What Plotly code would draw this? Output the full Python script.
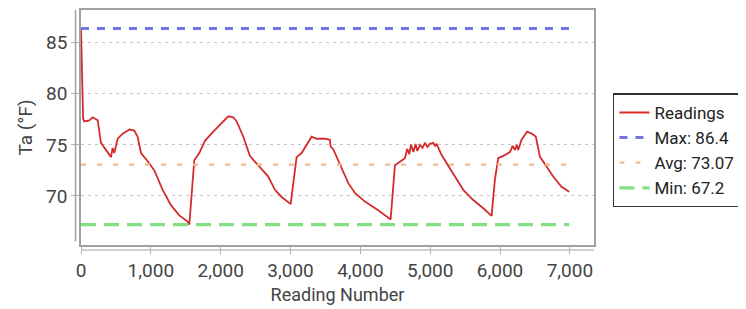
import plotly.graph_objects as go

# ---- data ----
reading_x = [0, 8, 18, 30, 47, 119, 167, 239, 286, 382, 430, 453, 477, 525, 597, 692, 763, 811, 859,
             955, 1050, 1169, 1288, 1407, 1527, 1551, 1622, 1694, 1775, 1894, 2014, 2109, 2180, 2229,
             2324, 2419, 2538, 2681, 2777, 2873, 3002, 3087, 3159, 3231, 3302, 3374, 3493, 3564, 3575,
             3610, 3636, 3732, 3827, 3922, 4065, 4256, 4433, 4495, 4566, 4638, 4670, 4700, 4725, 4760,
             4790, 4815, 4853, 4890, 4924, 4960, 4996, 5043, 5070, 5091, 5163, 5258, 5354, 5473, 5616,
             5759, 5879, 5926, 5974, 6069, 6141, 6180, 6212, 6240, 6260, 6308, 6388, 6451, 6513, 6570,
             6666, 6761, 6880, 6990]
reading_y = [86.4, 83.5, 80.0, 77.6, 77.3, 77.4, 77.7, 77.4, 75.2, 74.3, 73.8, 74.7, 74.2, 75.6, 76.1,
             76.5, 76.4, 75.8, 74.2, 73.4, 72.5, 70.6, 69.1, 68.1, 67.5, 67.2, 73.5, 74.2, 75.4, 76.3,
             77.1, 77.8, 77.7, 77.3, 75.8, 73.9, 73.0, 71.9, 70.6, 69.9, 69.2, 73.8, 74.2, 75.0, 75.8,
             75.6, 75.6, 75.5, 74.8, 74.6, 74.2, 72.7, 71.25, 70.3, 69.45, 68.6, 67.7, 73.0, 73.35, 73.7,
             74.6, 74.1, 75.0, 74.3, 75.1, 74.4, 75.0, 74.7, 75.2, 74.8, 75.1, 75.2, 74.9, 75.1, 74.0,
             72.9, 71.9, 70.6, 69.6, 68.8, 68.05, 71.6, 73.7, 74.0, 74.3, 74.9, 74.5, 75.0, 74.5, 75.5,
             76.3, 76.1, 75.8, 73.85, 72.9, 71.9, 70.9, 70.4]

max_val = 86.4
avg_val = 73.07
min_val = 67.2

x_ticks = [0, 1000, 2000, 3000, 4000, 5000, 6000, 7000]
x_tick_labels = ["0", "1,000", "2,000", "3,000", "4,000", "5,000", "6,000", "7,000"]
y_ticks = [70, 75, 80, 85]

x_title = "Reading Number"
y_title = "Ta (°F)"

FONT = "Roboto"
span = [reading_x[0], reading_x[-1]]

fig = go.Figure()
fig.add_trace(go.Scatter(x=reading_x, y=reading_y, mode="lines", name="Readings",
                         line=dict(color="#d42c2c", width=1.8)))
fig.add_trace(go.Scatter(x=span, y=[max_val, max_val], mode="lines", name=f"Max: {max_val}",
                         line=dict(color="#7474e0", width=3, dash="8px,8px")))
fig.add_trace(go.Scatter(x=span, y=[avg_val, avg_val], mode="lines", name=f"Avg: {avg_val:.2f}",
                         line=dict(color="#ecbc94", width=2.2, dash="5px,11px")))
fig.add_trace(go.Scatter(x=span, y=[min_val, min_val], mode="lines", name=f"Min: {min_val}",
                         line=dict(color="#82e082", width=3.2, dash="15px,8px")))

# the page body has an 8px default margin, so the figure is sized/offset to compensate
fig.update_layout(
    width=738, height=301,
    margin=dict(l=73, r=152, t=2, b=64, autoexpand=False),
    paper_bgcolor="white", plot_bgcolor="white",
    font=dict(family=FONT, size=19, color="#444"),
    showlegend=True,
    legend=dict(x=1.037, xanchor="left", y=0.645, yanchor="top",
                bordercolor="#333", borderwidth=1.5, bgcolor="white",
                font=dict(family=FONT, size=17, color="#222"),
                tracegroupgap=0, itemwidth=30),
    xaxis=dict(range=[0, 7345], tickmode="array", tickvals=x_ticks, ticktext=x_tick_labels,
               showgrid=False, zeroline=False, showline=True, mirror=True,
               linecolor="#a0a0a0", linewidth=1.5,
               ticks="outside", ticklen=7, tickcolor="#b0b0b0", tickwidth=1,
               tickfont=dict(family=FONT, size=19, color="#444"),
               automargin=False,
               title=dict(text=x_title, font=dict(family=FONT, size=18, color="#444"), standoff=8)),
    yaxis=dict(range=[65.2, 88.2], tickmode="array", tickvals=y_ticks,
               showgrid=True, gridcolor="#c4c4d4", gridwidth=1, griddash="3px,4px",
               zeroline=False, showline=True, mirror=True,
               linecolor="#a0a0a0", linewidth=1.5,
               ticks="outside", ticklen=8, tickcolor="#b0b0b0", tickwidth=1,
               tickfont=dict(family=FONT, size=19, color="#444"),
               automargin=False,
               title=dict(text=y_title, font=dict(family=FONT, size=19, color="#444"), standoff=8)),
    shapes=[
        # offset axis lines (JFreeChart style)
        dict(type="line", xref="paper", yref="paper", x0=-0.0107, x1=-0.0107, y0=0.015, y1=1.0,
             line=dict(color="#a0a0a0", width=1.5), layer="above"),
        dict(type="line", xref="paper", yref="paper", x0=0.0, x1=1.0, y0=-0.021, y1=-0.021,
             line=dict(color="#c0c0c0", width=1.5), layer="above"),
    ],
)

fig.write_html("out.html")
